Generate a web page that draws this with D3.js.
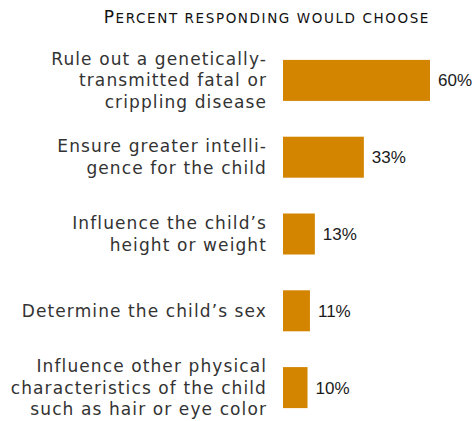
<!DOCTYPE html>
<html>
<head>
<meta charset="utf-8">
<script src="https://cdn.jsdelivr.net/npm/d3@7"></script>
<style>
  body { margin: 0; background: #fff; }
  svg { display: block; }
</style>
</head>
<body>
<svg width="475" height="421"></svg>
<script>
// chart data
const labels = [
    ["Rule out a genetically-", "transmitted fatal or", "crippling disease"],
    ["Ensure greater intelli-", "gence for the child"],
    ["Influence the child\u2019s", "height or weight"],
    ["Determine the child\u2019s sex"],
    ["Influence other physical", "characteristics of the child", "such as hair or eye color"]
];
const values = [60, 33, 13, 11, 10];
const title = "Percent responding would choose";

const svg = d3.select("svg");

// scales
const x = d3.scaleLinear()
    .domain([0, 60])
    .range([283, 430]);

const y = d3.scaleBand()
    .domain(d3.range(values.length))
    .range([42, 426])
    .paddingInner(0.466)
    .paddingOuter(0.233);

// title, hand made small caps: first letter big, rest smaller capitals
const t = svg.append("text")
    .attr("x", 430)
    .attr("y", 23)
    .attr("text-anchor", "end")
    .style("font-family", "'DejaVu Sans', sans-serif")
    .style("letter-spacing", "1.6px")
    .style("fill", "#111");
t.append("tspan").style("font-size", "17px").text(title[0]);
t.append("tspan").style("font-size", "13.5px").text(title.slice(1).toUpperCase());

// bars
svg.selectAll("rect.bar")
    .data(values)
    .enter()
    .append("rect")
    .attr("class", "bar")
    .attr("x", x(0))
    .attr("y", (d, i) => y(i))
    .attr("width", d => x(d) - x(0))
    .attr("height", y.bandwidth())
    .attr("fill", "#D38500");

// value labels
svg.selectAll("text.val")
    .data(values)
    .enter()
    .append("text")
    .attr("class", "val")
    .attr("x", d => x(d) + 8)
    .attr("y", (d, i) => y(i) + y.bandwidth() / 2 + 6)
    .style("font-family", "'Liberation Sans', Arial, sans-serif")
    .style("font-size", "17px")
    .style("fill", "#1a1a1a")
    .text(d => d + "%");

// category labels, several lines each
const lineH = 21.5;
svg.selectAll("text.cat")
    .data(labels)
    .enter()
    .append("text")
    .attr("class", "cat")
    .attr("text-anchor", "end")
    .style("font-family", "'DejaVu Sans', sans-serif")
    .style("font-size", "17px")
    .style("letter-spacing", "1.1px")
    .style("fill", "#333")
    .each(function(lines, i) {
        const cy = y(i) + y.bandwidth() / 2 + 6 - (lines.length - 1) * lineH / 2;
        d3.select(this).selectAll("tspan")
            .data(lines)
            .enter()
            .append("tspan")
            .attr("x", 267)
            .attr("y", (d, j) => cy + j * lineH)
            .text(d => d);
    });
</script>
</body>
</html>
